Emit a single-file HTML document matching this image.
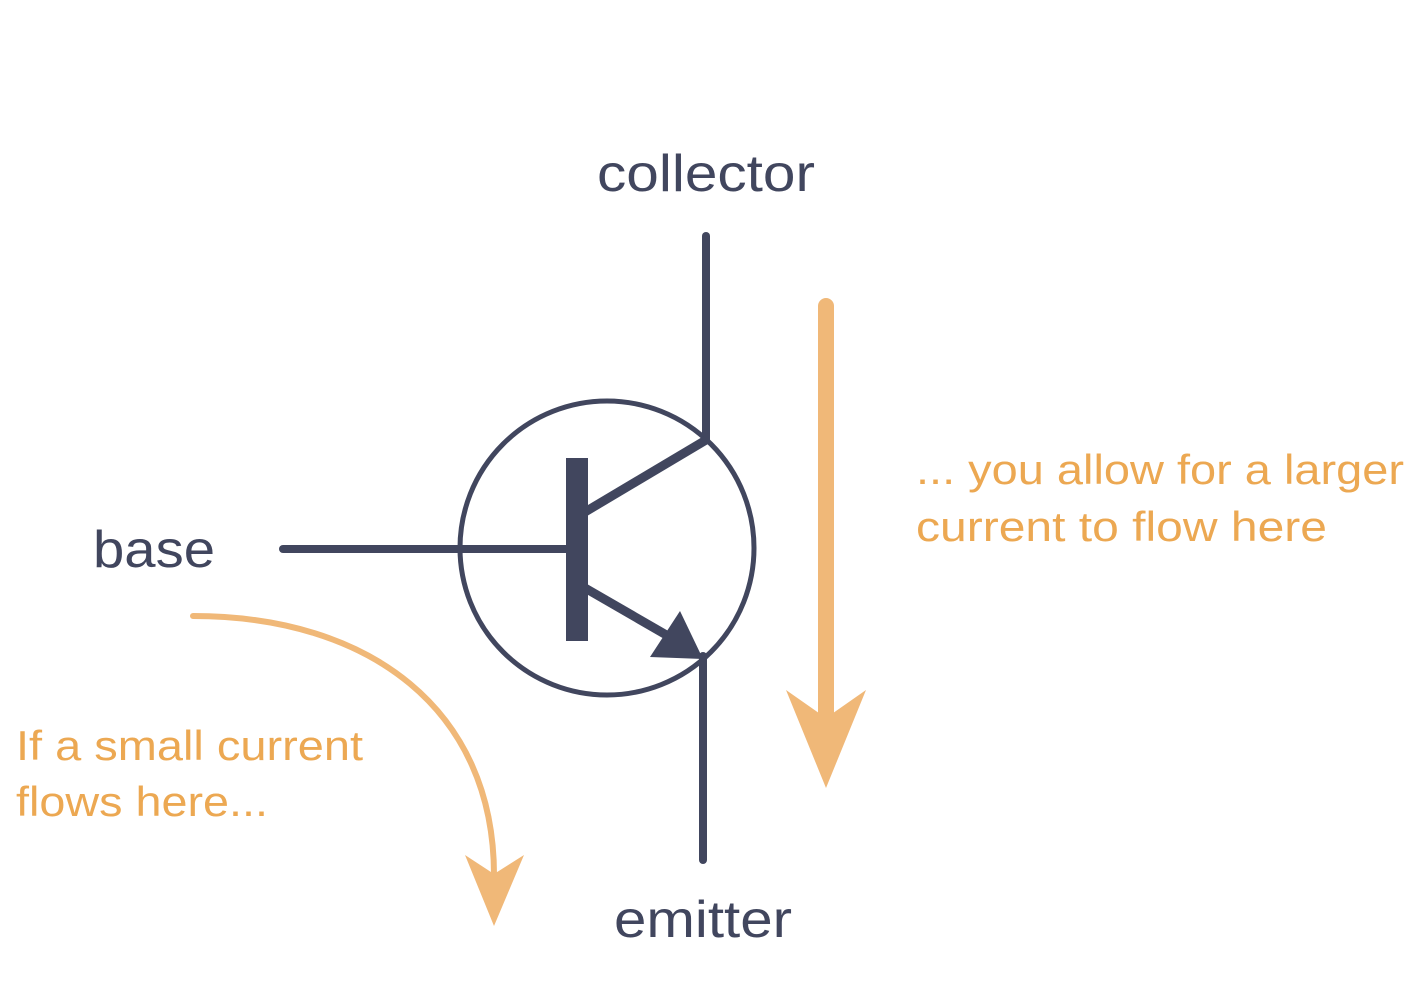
<!DOCTYPE html>
<html><head><meta charset="utf-8"><style>
html,body{margin:0;padding:0;background:#fff;width:1426px;height:981px;overflow:hidden}
</style></head><body>
<svg width="1426" height="981" viewBox="0 0 1426 981" xmlns="http://www.w3.org/2000/svg" font-family="Liberation Sans, sans-serif">
<g stroke="#41465e" fill="none">
<circle cx="607" cy="548" r="147" stroke-width="5"/>
<line x1="706" y1="236" x2="706" y2="440" stroke-width="8" stroke-linecap="round"/>
<line x1="703" y1="656" x2="703" y2="860" stroke-width="8" stroke-linecap="round"/>
<line x1="283" y1="549" x2="570" y2="549" stroke-width="8" stroke-linecap="round"/>
<line x1="585" y1="512" x2="706" y2="440" stroke-width="9"/>
<line x1="585" y1="588" x2="675" y2="640" stroke-width="9"/>
</g>
<rect x="566" y="458" width="22" height="183" fill="#41465e"/>
<polygon points="703,659 650,657 680,611" fill="#41465e"/>
<line x1="826" y1="306" x2="826" y2="720" stroke="#f0b878" stroke-width="16" stroke-linecap="round"/>
<polygon points="786,690 826,718 866,690 826,788" fill="#f0b878"/>
<path d="M193,616 C370,616 494,710 494,875" stroke="#f0b878" stroke-width="6" fill="none" stroke-linecap="round"/>
<polygon points="465,855 494,874 524,855 494,926" fill="#f0b878"/>
<g fill="#41465e" font-size="52">
<text x="597" y="191" textLength="218" lengthAdjust="spacingAndGlyphs">collector</text>
<text x="93" y="567" textLength="122" lengthAdjust="spacingAndGlyphs">base</text>
<text x="614" y="937" textLength="178" lengthAdjust="spacingAndGlyphs">emitter</text>
</g>
<g fill="#eca852" font-size="42">
<text x="916" y="484" textLength="488" lengthAdjust="spacingAndGlyphs">... you allow for a larger</text>
<text x="916" y="541" textLength="411" lengthAdjust="spacingAndGlyphs">current to flow here</text>
<text x="16" y="760" textLength="347" lengthAdjust="spacingAndGlyphs">If a small current</text>
<text x="16" y="816" textLength="252" lengthAdjust="spacingAndGlyphs">flows here...</text>
</g>
</svg>
</body></html>
